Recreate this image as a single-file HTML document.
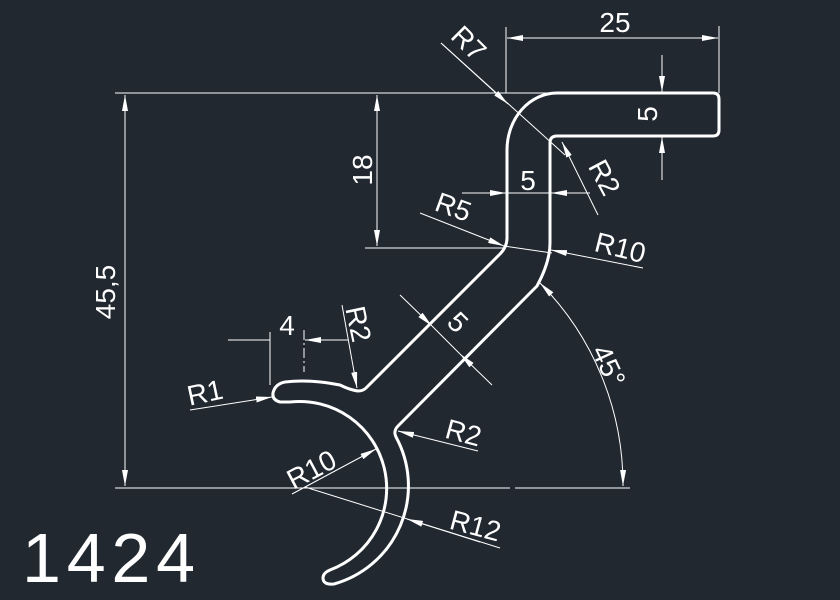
<!DOCTYPE html>
<html><head><meta charset="utf-8"><style>
html,body{margin:0;padding:0;background:#212830;}
svg{display:block}
text{font-family:"Liberation Sans",sans-serif;fill:#fff;}
</style></head><body>
<svg width="840" height="600" viewBox="0 0 840 600" xmlns="http://www.w3.org/2000/svg">
<defs>
<marker id="a" viewBox="0 0 16 6" refX="16" refY="3" markerWidth="16" markerHeight="6" markerUnits="userSpaceOnUse" orient="auto-start-reverse">
<path d="M0,0 L16,3 L0,6 Z" fill="#fff"/></marker>
</defs>
<rect width="840" height="600" fill="#212830"/>
<g fill="none" stroke="#fff" stroke-width="3" stroke-linejoin="round" stroke-linecap="round">
<path d="M557,93 L713,93 Q719,93 719,99 L719,130 Q719,136 713,136 L557,136 Q550,136 550,143 L550,243 Q550,262 537,286 L398,426 Q393,431 396,437 A102,102 0 0 1 334,584 Q323,585 323,578 Q323,573 330,570 A87,87 0 0 0 290,402 L280,402 Q272,400 273,393 Q275,384 285,382 Q310,379 340,385 Q350,390 358,391 Q363,391 366,388 L500,254 Q507,247 507,238 L507,150 A50,57 0 0 1 557,93 Z"/>
</g>
<g stroke="#fff" stroke-width="1" fill="none">
<line x1="115" y1="93" x2="557" y2="93"/>
<line x1="115" y1="488" x2="510" y2="488"/>
<line x1="515" y1="488" x2="630" y2="488"/>
<line x1="125" y1="95" x2="125" y2="486" marker-start="url(#a)" marker-end="url(#a)"/>
<line x1="365" y1="248" x2="505" y2="248"/>
<line x1="377" y1="95" x2="377" y2="246" marker-start="url(#a)" marker-end="url(#a)"/>
<line x1="506" y1="27" x2="506" y2="93"/>
<line x1="719" y1="26" x2="719" y2="93"/>
<line x1="507" y1="38" x2="718" y2="38" marker-start="url(#a)" marker-end="url(#a)"/>
<line x1="662" y1="55" x2="662" y2="92" marker-end="url(#a)"/>
<line x1="662" y1="180" x2="662" y2="137" marker-end="url(#a)"/>
<line x1="462" y1="193" x2="506" y2="193" marker-end="url(#a)"/>
<line x1="590" y1="193" x2="551" y2="193" marker-end="url(#a)"/>
<line x1="507" y1="193" x2="550" y2="193"/>
<line x1="441" y1="43" x2="565" y2="155"/>
<line x1="441" y1="43" x2="508" y2="104" marker-end="url(#a)"/>
<line x1="598" y1="215" x2="562" y2="142" marker-end="url(#a)"/>
<line x1="420" y1="213" x2="504" y2="246" marker-end="url(#a)"/>
<line x1="504" y1="246" x2="552" y2="253"/>
<line x1="643" y1="268" x2="551" y2="250" marker-end="url(#a)"/>
<line x1="400" y1="295" x2="432" y2="326" marker-end="url(#a)"/>
<line x1="492" y1="385" x2="460" y2="354" marker-end="url(#a)"/>
<line x1="432" y1="326" x2="460" y2="354"/>
<line x1="342" y1="305" x2="357" y2="388" marker-end="url(#a)"/>
<line x1="270" y1="332" x2="270" y2="385"/>
<line x1="304" y1="330" x2="304" y2="372" stroke-dasharray="10,3,2,3"/>
<line x1="228" y1="340" x2="270" y2="340"/>
<line x1="348" y1="340" x2="305" y2="340" marker-end="url(#a)"/>
<line x1="190" y1="410" x2="272" y2="397" marker-end="url(#a)"/>
<line x1="478" y1="451" x2="398" y2="431" marker-end="url(#a)"/>
<line x1="292" y1="494" x2="376" y2="449" marker-end="url(#a)"/>
<line x1="305" y1="487" x2="500" y2="548"/>
<line x1="480" y1="542" x2="407" y2="519" marker-end="url(#a)"/>
<path d="M540,283 A287,287 0 0 1 623,486" marker-start="url(#a)" marker-end="url(#a)"/>
</g>
<g font-size="28">
<text x="0" y="0" transform="translate(115,292) rotate(-90)" text-anchor="middle">45,5</text>
<text x="0" y="0" transform="translate(372,170) rotate(-90)" text-anchor="middle">18</text>
<text x="615" y="32" text-anchor="middle">25</text>
<text x="0" y="0" transform="translate(657,114) rotate(-90)" text-anchor="middle">5</text>
<text x="528" y="190" text-anchor="middle">5</text>
<text x="0" y="0" transform="translate(462,50) rotate(45)" text-anchor="middle">R7</text>
<text x="0" y="0" transform="translate(596,182) rotate(62)" text-anchor="middle">R2</text>
<text x="0" y="0" transform="translate(450,216) rotate(20)" text-anchor="middle">R5</text>
<text x="0" y="0" transform="translate(618,257) rotate(14)" text-anchor="middle">R10</text>
<text x="0" y="0" transform="translate(451,329) rotate(45)" text-anchor="middle">5</text>
<text x="0" y="0" transform="translate(349,326) rotate(78)" text-anchor="middle">R2</text>
<text x="287" y="335" text-anchor="middle">4</text>
<text x="0" y="0" transform="translate(207,402) rotate(-12)" text-anchor="middle">R1</text>
<text x="0" y="0" transform="translate(461,442) rotate(15)" text-anchor="middle">R2</text>
<text x="0" y="0" transform="translate(316,478) rotate(-28)" text-anchor="middle">R10</text>
<text x="0" y="0" transform="translate(473,535) rotate(15)" text-anchor="middle">R12</text>
<text x="0" y="0" transform="translate(600,370) rotate(65)" text-anchor="middle">45°</text>
</g>
<text x="22" y="582" font-size="70" textLength="173" lengthAdjust="spacing">1424</text>
</svg>
</body></html>
